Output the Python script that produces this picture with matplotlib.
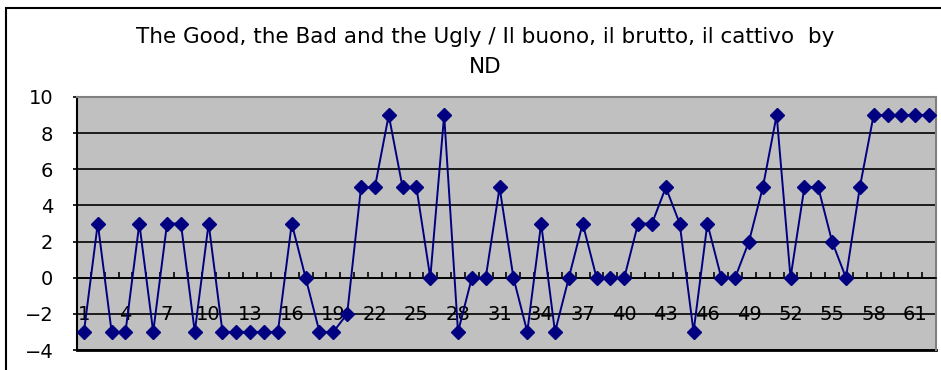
import matplotlib
matplotlib.use('Agg')
import matplotlib.pyplot as plt
from matplotlib.patches import Rectangle
import numpy as np

plt.rcParams['font.family'] = ['DejaVu Sans']
plt.rcParams['axes.unicode_minus'] = True

# episode / rating data
episodes = list(range(1, 63))
ratings = [-3, 3, -3, -3, 3, -3, 3, 3, -3, 3,
           -3, -3, -3, -3, -3, 3, 0, -3, -3, -2,
           5, 5, 9, 5, 5, 0, 9, -3, 0, 0,
           5, 0, -3, 3, -3, 0, 3, 0, 0, 0,
           3, 3, 5, 3, -3, 3, 0, 0, 2, 5,
           9, 0, 5, 5, 2, 0, 5, 9, 9, 9,
           9, 9]
xlabels = [str(e) for e in episodes[::3]]
yticks = [-4, -2, 0, 2, 4, 6, 8, 10]
title = "The Good, the Bad and the Ugly / Il buono, il brutto, il cattivo  by\nND"

fig = plt.figure(figsize=(9.41, 3.70), dpi=100)
fig.patch.set_facecolor('white')

# chart area frame (excel style)
fig.add_artist(Rectangle((6/941, -0.1), 1.0, 1 - 8/370 + 0.1,
                         transform=fig.transFigure, fill=False,
                         edgecolor='black', linewidth=1.5))

fig.text(485/941, 1 - 52/370, title, ha='center', va='center',
         fontsize=15.5, linespacing=1.6)

ax = fig.add_axes([77/941, 20/370, (936-77)/941, (350-97)/370])
ax.set_facecolor('#C0C0C0')

ax.plot(episodes, ratings, color='#000080', linewidth=1.4,
        marker='D', markersize=7.5, markerfacecolor='#000080',
        markeredgecolor='#000080', zorder=3)

ax.set_xlim(0.5, len(episodes) + 0.5)
ax.set_ylim(-4, 10)
ax.set_yticks(yticks)
ax.set_yticklabels([str(t).replace('-', '\u2212') for t in yticks])
ax.yaxis.grid(True, color='black', linewidth=1.2)
ax.set_axisbelow(True)

ax.spines['top'].set_color('#808080')
ax.spines['right'].set_color('#808080')
ax.spines['top'].set_linewidth(1.5)
ax.spines['right'].set_linewidth(1.5)
ax.spines['left'].set_linewidth(1.5)
ax.spines['bottom'].set_position(('data', 0))
ax.spines['bottom'].set_linewidth(1.2)
ax.axhline(-4, color='black', linewidth=2, clip_on=False)

ax.set_xticks(episodes[::3])
ax.set_xticklabels(xlabels)
ax.set_xticks(np.arange(0.5, len(episodes) + 1, 1), minor=True)
ax.tick_params(axis='x', which='major', length=0, pad=20, labelsize=14)
ax.tick_params(axis='x', which='minor', direction='in', length=4, width=1.2)
ax.tick_params(axis='y', which='major', direction='out', length=3,
               width=1.2, pad=14, labelsize=14)

fig.savefig('out.png', dpi=100)
